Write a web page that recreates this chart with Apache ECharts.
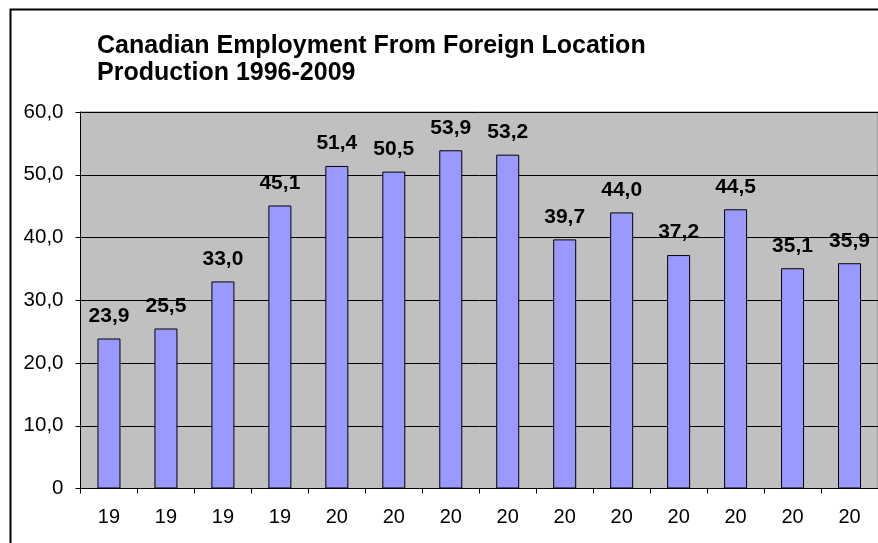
<!DOCTYPE html>
<html>
<head>
<meta charset="utf-8">
<script src="https://cdn.jsdelivr.net/npm/echarts@6/dist/echarts.min.js"></script>
<style>
html,body{margin:0;padding:0;background:#fff;}
#chart{width:878px;height:543px;}
</style>
</head>
<body>
<div id="chart"></div>
<script>
var titleLines = ['Canadian Employment From Foreign Location', 'Production 1996-2009'];
var years = ['1996','1997','1998','1999','2000','2001','2002','2003','2004','2005','2006','2007','2008','2009'];
var tickLabels = ['19','19','19','19','20','20','20','20','20','20','20','20','20','20'];
var employment = [23.9, 25.5, 33.0, 45.1, 51.4, 50.5, 53.9, 53.2, 39.7, 44.0, 37.2, 44.5, 35.1, 35.9];
var yMin = 0, yMax = 60, yStep = 10;

function fmt(v){ return v === 0 ? '0' : v.toFixed(1).replace('.', ','); }

var chart = echarts.init(document.getElementById('chart'), null, {renderer:'canvas'});
chart.setOption({
  animation:false,
  backgroundColor:'#ffffff',
  graphic:[{
    type:'rect', left:8, top:7, z:100, silent:true,
    shape:{x:0,y:0,width:1000,height:700},
    style:{fill:'none', stroke:'#000', lineWidth:2}
  }],
  title:{
    text: titleLines.join('\n'),
    left:92, top:28,
    textStyle:{fontFamily:'Arial, Liberation Sans', fontWeight:'bold', fontSize:25, lineHeight:27, color:'#000'}
  },
  grid:{
    left:80.5, top:112, width:800.5, bottom:54.5,
    show:true, backgroundColor:'#C0C0C0', borderColor:'#808080', borderWidth:1,
    containLabel:false
  },
  xAxis:{
    type:'category',
    data: years,
    axisLine:{show:true, lineStyle:{color:'#000', width:1}},
    axisTick:{show:true, alignWithLabel:false, length:5, lineStyle:{color:'#000'}},
    axisLabel:{
      formatter:function(v, i){ return tickLabels[i]; },
      color:'#000', fontFamily:'Arial, Liberation Sans', fontSize:20, margin:19, interval:0
    },
    splitLine:{show:false}
  },
  yAxis:{
    type:'value', min:yMin, max:yMax, interval:yStep,
    axisLine:{show:true, lineStyle:{color:'#000', width:1}},
    axisTick:{show:true, inside:false, length:5, lineStyle:{color:'#000'}},
    axisLabel:{formatter:fmt, color:'#000', fontFamily:'Arial, Liberation Sans', fontSize:20.5, margin:17},
    splitLine:{show:true, lineStyle:{color:'#000', width:1}}
  },
  series:[{
    type:'bar',
    data: employment,
    barWidth:23,
    itemStyle:{color:'#9999FF', borderColor:'#000', borderWidth:1},
    label:{
      show:true, position:'top', distance:12,
      formatter:function(p){ return fmt(p.value); },
      color:'#000', fontFamily:'Arial, Liberation Sans', fontWeight:'bold', fontSize:21
    }
  }]
});
</script>
</body>
</html>
